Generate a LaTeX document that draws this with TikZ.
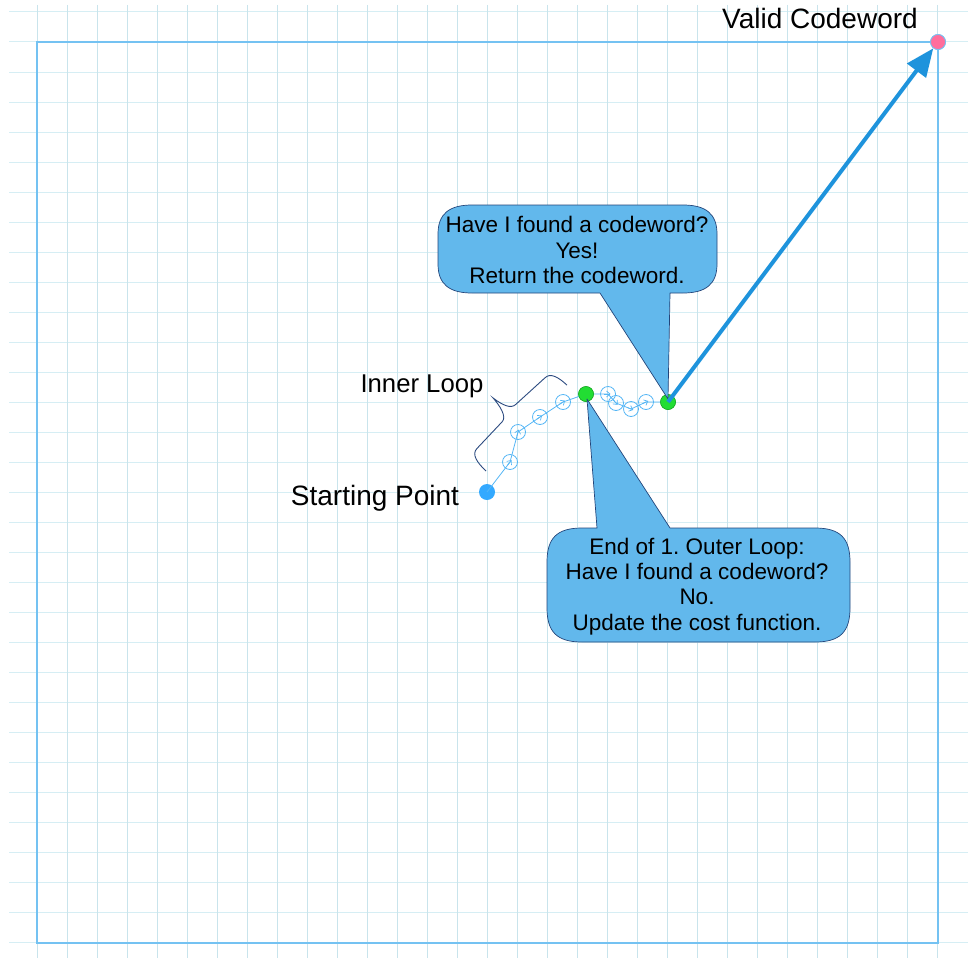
\documentclass[tikz,border=0pt]{standalone}
\usepackage{fontspec}
\setmainfont{Liberation Sans}
\usetikzlibrary{arrows.meta,calc}
\frenchspacing

\definecolor{gridv}{HTML}{C9E4EC}
\definecolor{gridh}{HTML}{D6EEF4}
\definecolor{frameblue}{HTML}{74C2F2}
\definecolor{stepblue}{HTML}{55B6F5}
\definecolor{startblue}{HTML}{33A9FF}
\definecolor{hitgreen}{HTML}{22DD33}
\definecolor{calloutfill}{HTML}{62B8EC}
\definecolor{calloutline}{HTML}{23457A}
\definecolor{arrowblue}{HTML}{1E93DC}
\definecolor{goalpink}{HTML}{FF6E9C}
\definecolor{bracenavy}{HTML}{2C4B80}

\begin{document}
\begin{tikzpicture}[x=1pt,y=-1pt,
  gridlineh/.style={draw=gridh, line width=1pt},
  gridlinev/.style={draw=gridv, line width=1pt},
  boxframe/.style={draw=frameblue, line width=1.5pt},
  stepdot/.style={circle, draw=stepblue, line width=0.8pt, minimum size=15pt, inner sep=0pt},
  startdot/.style={circle, fill=startblue, minimum size=16pt, inner sep=0pt},
  hitdot/.style={circle, fill=hitgreen, draw=hitgreen!75!black, line width=0.5pt, minimum size=15pt, inner sep=0pt},
  goaldot/.style={circle, fill=goalpink, draw=frameblue, line width=0.8pt, minimum size=15pt, inner sep=0pt},
  steppath/.style={draw=stepblue, line width=0.8pt},
  steptip/.style={draw=stepblue, line width=0.7pt, -{Straight Barb[length=3.5pt,width=6pt]}},
  bubble/.style={fill=calloutfill, draw=calloutline, line width=0.7pt, line join=round},
  bubbletext/.style={align=center, inner sep=0pt, font=\fontsize{22.5}{25.3}\selectfont},
  tagtext/.style={inner sep=0pt, font=\fontsize{28}{32}\selectfont},
  loopbrace/.style={draw=bracenavy, line width=0.9pt},
  bigarrow/.style={draw=arrowblue, line width=4pt, -{Triangle[length=28pt,width=23pt]}}
]
\useasboundingbox (0,0) rectangle (968,958);

% background grid
\foreach \y in {12,42,...,942} \draw[gridlineh] (9,\y) -- (968,\y);
\foreach \x in {37,67,...,937} \draw[gridlinev] (\x,5) -- (\x,958);

% outer frame
\draw[boxframe] (37,42) rectangle (938,943);

% search trajectory
\node[startdot] (s) at (487,492) {};
\node[stepdot] (p1) at (510,462) {};
\node[stepdot] (p2) at (518,432) {};
\node[stepdot] (p3) at (540,417) {};
\node[stepdot] (p4) at (563,402) {};
\node[hitdot] (g1) at (586,394) {};
\node[stepdot] (q1) at (608,394) {};
\node[stepdot] (q2) at (616,403) {};
\node[stepdot] (q3) at (631,409) {};
\node[stepdot] (q4) at (646,402) {};
\node[hitdot] (g2) at (668,402) {};

\draw[steppath] (s.center) -- (p1.center) -- (p2.center) -- (p3.center) -- (p4.center) -- (g1.center)
  -- (q1.center) -- (q2.center) -- (q3.center) -- (q4.center) -- (g2.center);

% direction marks inside the step circles
\foreach \prev/\cur in {s/p1,p1/p2,p2/p3,p3/p4,g1/q1,q1/q2,q2/q3,q3/q4}
  \draw[steptip] ($(\cur)!4pt!(\prev)$) -- ($(\cur)!-2.5pt!(\prev)$);

\node[hitdot] at (g1) {};
\node[hitdot] at (g2) {};

% brace around the inner loop
\begin{scope}[shift={(486,471)}, x={(0.686pt,0.728pt)}, y={(-0.728pt,0.686pt)}]
  \draw[loopbrace] (0,0) .. controls (0,12) and (2,22) .. (10,22) -- (47,22)
    .. controls (54,22) and (57,35) .. (58,45)
    .. controls (59,34) and (62,24) .. (69,24) -- (108,21)
    .. controls (116,21) and (118,11) .. (118,0);
\end{scope}

% callout: codeword found
\path[bubble] (472,205) -- (683,205) .. controls (706,205) and (717,214) .. (717,234)
  -- (717,264) .. controls (717,284) and (706,293) .. (683,293) -- (670,293) -- (668,399)
  -- (600,293) -- (472,293) .. controls (449,293) and (438,284) .. (438,264)
  -- (438,234) .. controls (438,214) and (449,205) .. (472,205) -- cycle;
\node[bubbletext] (yes-text) at (577,250) {Have I found a codeword?\\Yes!\\Return the codeword.};

% callout: end of first outer loop
\path[bubble] (582,528) -- (597,528) -- (587,399) -- (670,528) -- (815,528)
  .. controls (840,528) and (850,538) .. (850,562) -- (850,608)
  .. controls (850,632) and (840,642) .. (815,642) -- (582,642)
  .. controls (557,642) and (547,632) .. (547,608) -- (547,562)
  .. controls (547,538) and (557,528) .. (582,528) -- cycle;
\node[bubbletext] (no-text) at (697,586.5) {End of 1. Outer Loop:\\Have I found a codeword?\\No.\\Update the cost function.};

% jump to the valid codeword
\node[goaldot] (v) at (938,42) {};
\draw[bigarrow] (g2.center) -- (v);
\node[goaldot] at (v) {};

% labels
\node[tagtext, anchor=base] (valid-label) at (820,29) {Valid Codeword};
\node[tagtext, anchor=base] (start-label) at (375,505) {Starting Point};
\node[inner sep=0pt, font=\fontsize{25.7}{30}\selectfont, anchor=base] (loop-label) at (422,392) {Inner Loop};
\end{tikzpicture}
\end{document}
